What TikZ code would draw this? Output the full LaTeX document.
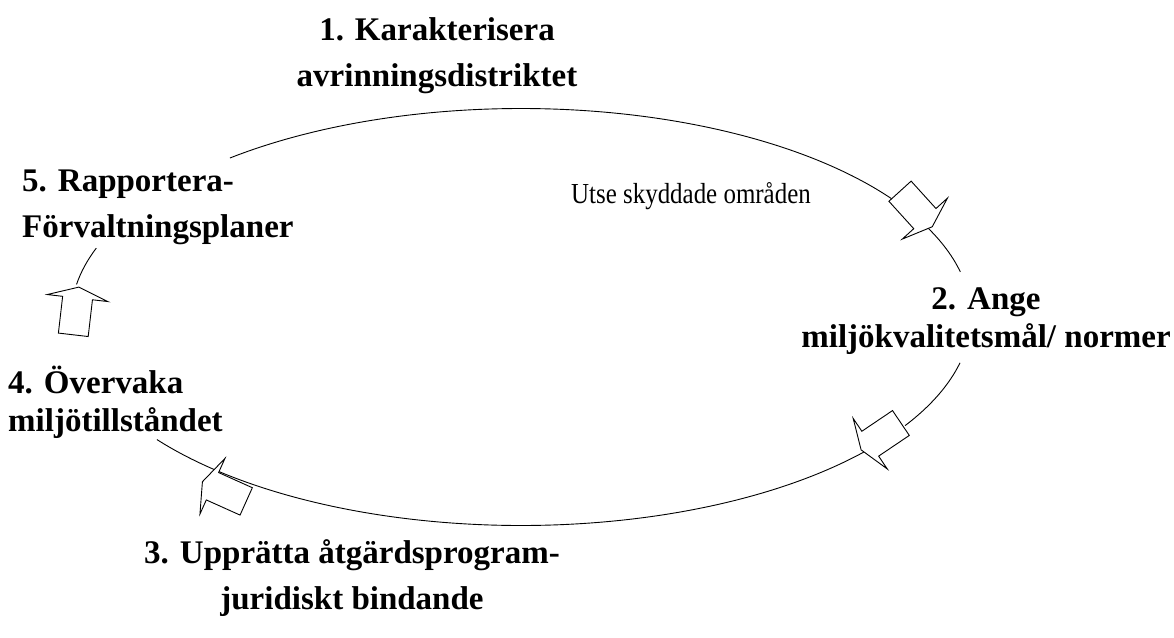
\documentclass[tikz,border=0pt]{standalone}
\usepackage{fontspec}
\setmainfont{Liberation Serif}
\newfontfamily\narrowserif[FakeStretch=0.86]{Liberation Serif}
\usetikzlibrary{positioning}

\begin{document}
\begin{tikzpicture}[x=1pt, y=1pt]
                \tikzstyle{stage} = [inner sep=0pt, font=\bfseries\fontsize{33}{46}\selectfont];
                \tikzstyle{stage tight} = [stage, font=\bfseries\fontsize{33}{38}\selectfont];
                \tikzstyle{note} = [inner sep=0pt, font=\narrowserif\fontsize{29}{32}\selectfont];
                \tikzstyle{cycle line} = [line width=0.9pt];
                \tikzstyle{flow shape} = [fill=white, draw=black, line width=0.9pt, line join=miter];
                \tikzset{flow/.pic={
                    \draw[flow shape] (0,15) -- (37,15) -- (37,30.5) -- (48,0) -- (37,-30.5) -- (37,-15) -- (0,-15) -- cycle;
                }}

                \useasboundingbox (0,0) rectangle (1174,-637);
                \coordinate (C) at (521,-317);

                % the cycle, broken where labels and arrows sit
                \foreach \a/\b in {34.1/130.3, 12.5/25.3, -12.7/-31.4, -40.3/-144, 160.7/171}
                    \draw[cycle line] ([shift={(\a:450pt and 208.5pt)}]C) arc[start angle=\a, end angle=\b, x radius=450pt, y radius=208.5pt];

                \pic[rotate=-47.8] at (900,-191.2) {flow};
                \pic[rotate=214] at (900.9,-423) {flow};
                \pic[rotate=155.8] at (246.2,-501.4) {flow};
                \pic[rotate=83.4] at (73.3,-334.8) {flow};

                \node[stage, align=center](karakterisera) at (437,-56) {1. Karakterisera\\avrinningsdistriktet};
                \node[stage tight, align=center](ange) at (986,-321) {2. Ange\\miljökvalitetsmål/ normer};
                \node[stage, align=center](upprätta) at (352,-578) {3. Upprätta åtgärdsprogram-\\juridiskt bindande};
                \node[stage tight, align=left, anchor=west](overvaka) at (8,-402) {4. Övervaka\\miljötillståndet};
                \node[stage, align=left, anchor=west](rapportera) at (22,-207) {5. Rapportera-\\Förvaltningsplaner};
                \node[note](skydd) at (691,-196) {Utse skyddade områden};
            \end{tikzpicture}
\end{document}
